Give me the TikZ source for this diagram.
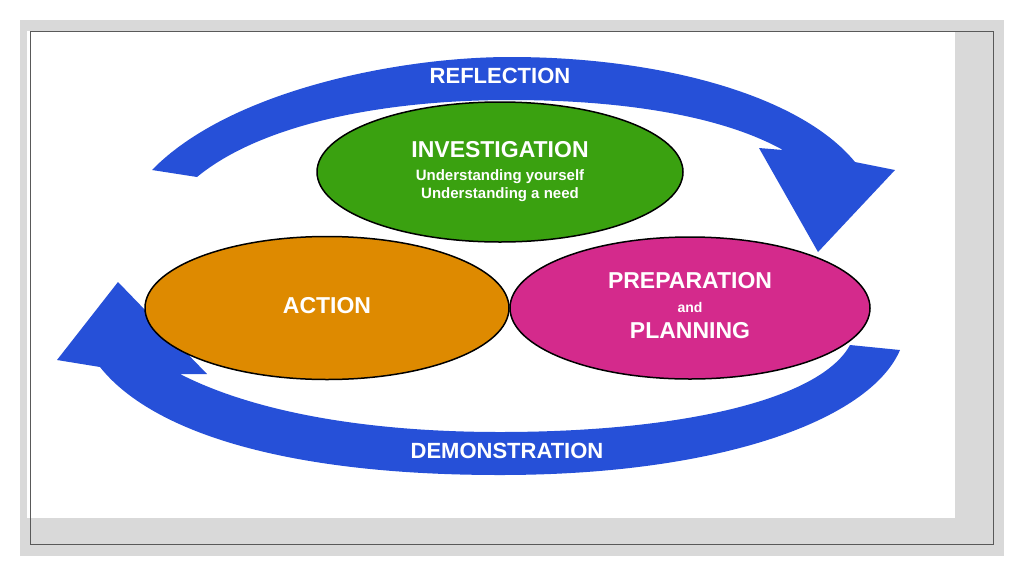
\documentclass[tikz,border=0pt]{standalone}
\usepackage{fontspec}
\setmainfont{Liberation Sans}
\usetikzlibrary{shapes.geometric}
\begin{document}
\begin{tikzpicture}[x=1pt,y=-1pt,
  arrowfill/.style={fill={rgb,255:red,38;green,80;blue,216}},
  oval/.style={draw=black,line width=1.5pt,ellipse,inner sep=0pt},
  lbl/.style={text=white,font=\bfseries,align=center}]
\useasboundingbox (0,0) rectangle (1024,576);
\fill[white] (0,0) rectangle (1024,576);
\fill[gray!30] (20,20) rectangle (1004,556);
\fill[white] (27,31) rectangle (955,518);
\draw[gray!70!black,line width=1pt] (30,31) rectangle (993,544);
% top arrow
\fill[arrowfill] (152,170) .. controls (230,90) and (400,57) .. (510,57)
  .. controls (660,57) and (800,95) .. (855,162) -- (895,170) -- (818,252) -- (759,148) -- (783,150)
  .. controls (720,115) and (620,100) .. (510,100)
  .. controls (380,100) and (260,125) .. (197,177) -- cycle;
% bottom arrow
\fill[arrowfill] (900,350) .. controls (870,420) and (720,475) .. (500,475)
  .. controls (280,475) and (150,430) .. (100,367) -- (57,360) -- (118,282) -- (207,374) -- (180,374)
  .. controls (250,410) and (360,432) .. (500,432)
  .. controls (680,432) and (820,400) .. (850,345) -- cycle;
% ovals
\node[oval,fill={rgb,255:red,58;green,161;blue,16},minimum width=366pt,minimum height=140pt] (inv) at (500,172) {};
\node[oval,fill={rgb,255:red,222;green,138;blue,0},minimum width=364pt,minimum height=143pt] (act) at (327,308) {};
\node[oval,fill={rgb,255:red,212;green,42;blue,140},minimum width=360pt,minimum height=142pt] (prep) at (690,308) {};
% texts
\node[lbl,font=\bfseries\fontsize{23}{26}\selectfont] (t1) at (500,150) {INVESTIGATION};
\node[lbl,font=\bfseries\fontsize{15}{18}\selectfont] (t2) at (500,186) {Understanding yourself\\Understanding a need};
\node[lbl,font=\bfseries\fontsize{23}{26}\selectfont] (t3) at (327,306) {ACTION};
\node[lbl,font=\bfseries\fontsize{23}{26}\selectfont] (t4) at (690,281) {PREPARATION};
\node[lbl,font=\bfseries\fontsize{14}{16}\selectfont] (t5) at (690,307) {and};
\node[lbl,font=\bfseries\fontsize{23}{26}\selectfont] (t6) at (690,331) {PLANNING};
\node[lbl,font=\bfseries\fontsize{22}{26}\selectfont] (t7) at (500,76) {REFLECTION};
\node[lbl,font=\bfseries\fontsize{22}{26}\selectfont] (t8) at (507,451) {DEMONSTRATION};
\end{tikzpicture}
\end{document}
